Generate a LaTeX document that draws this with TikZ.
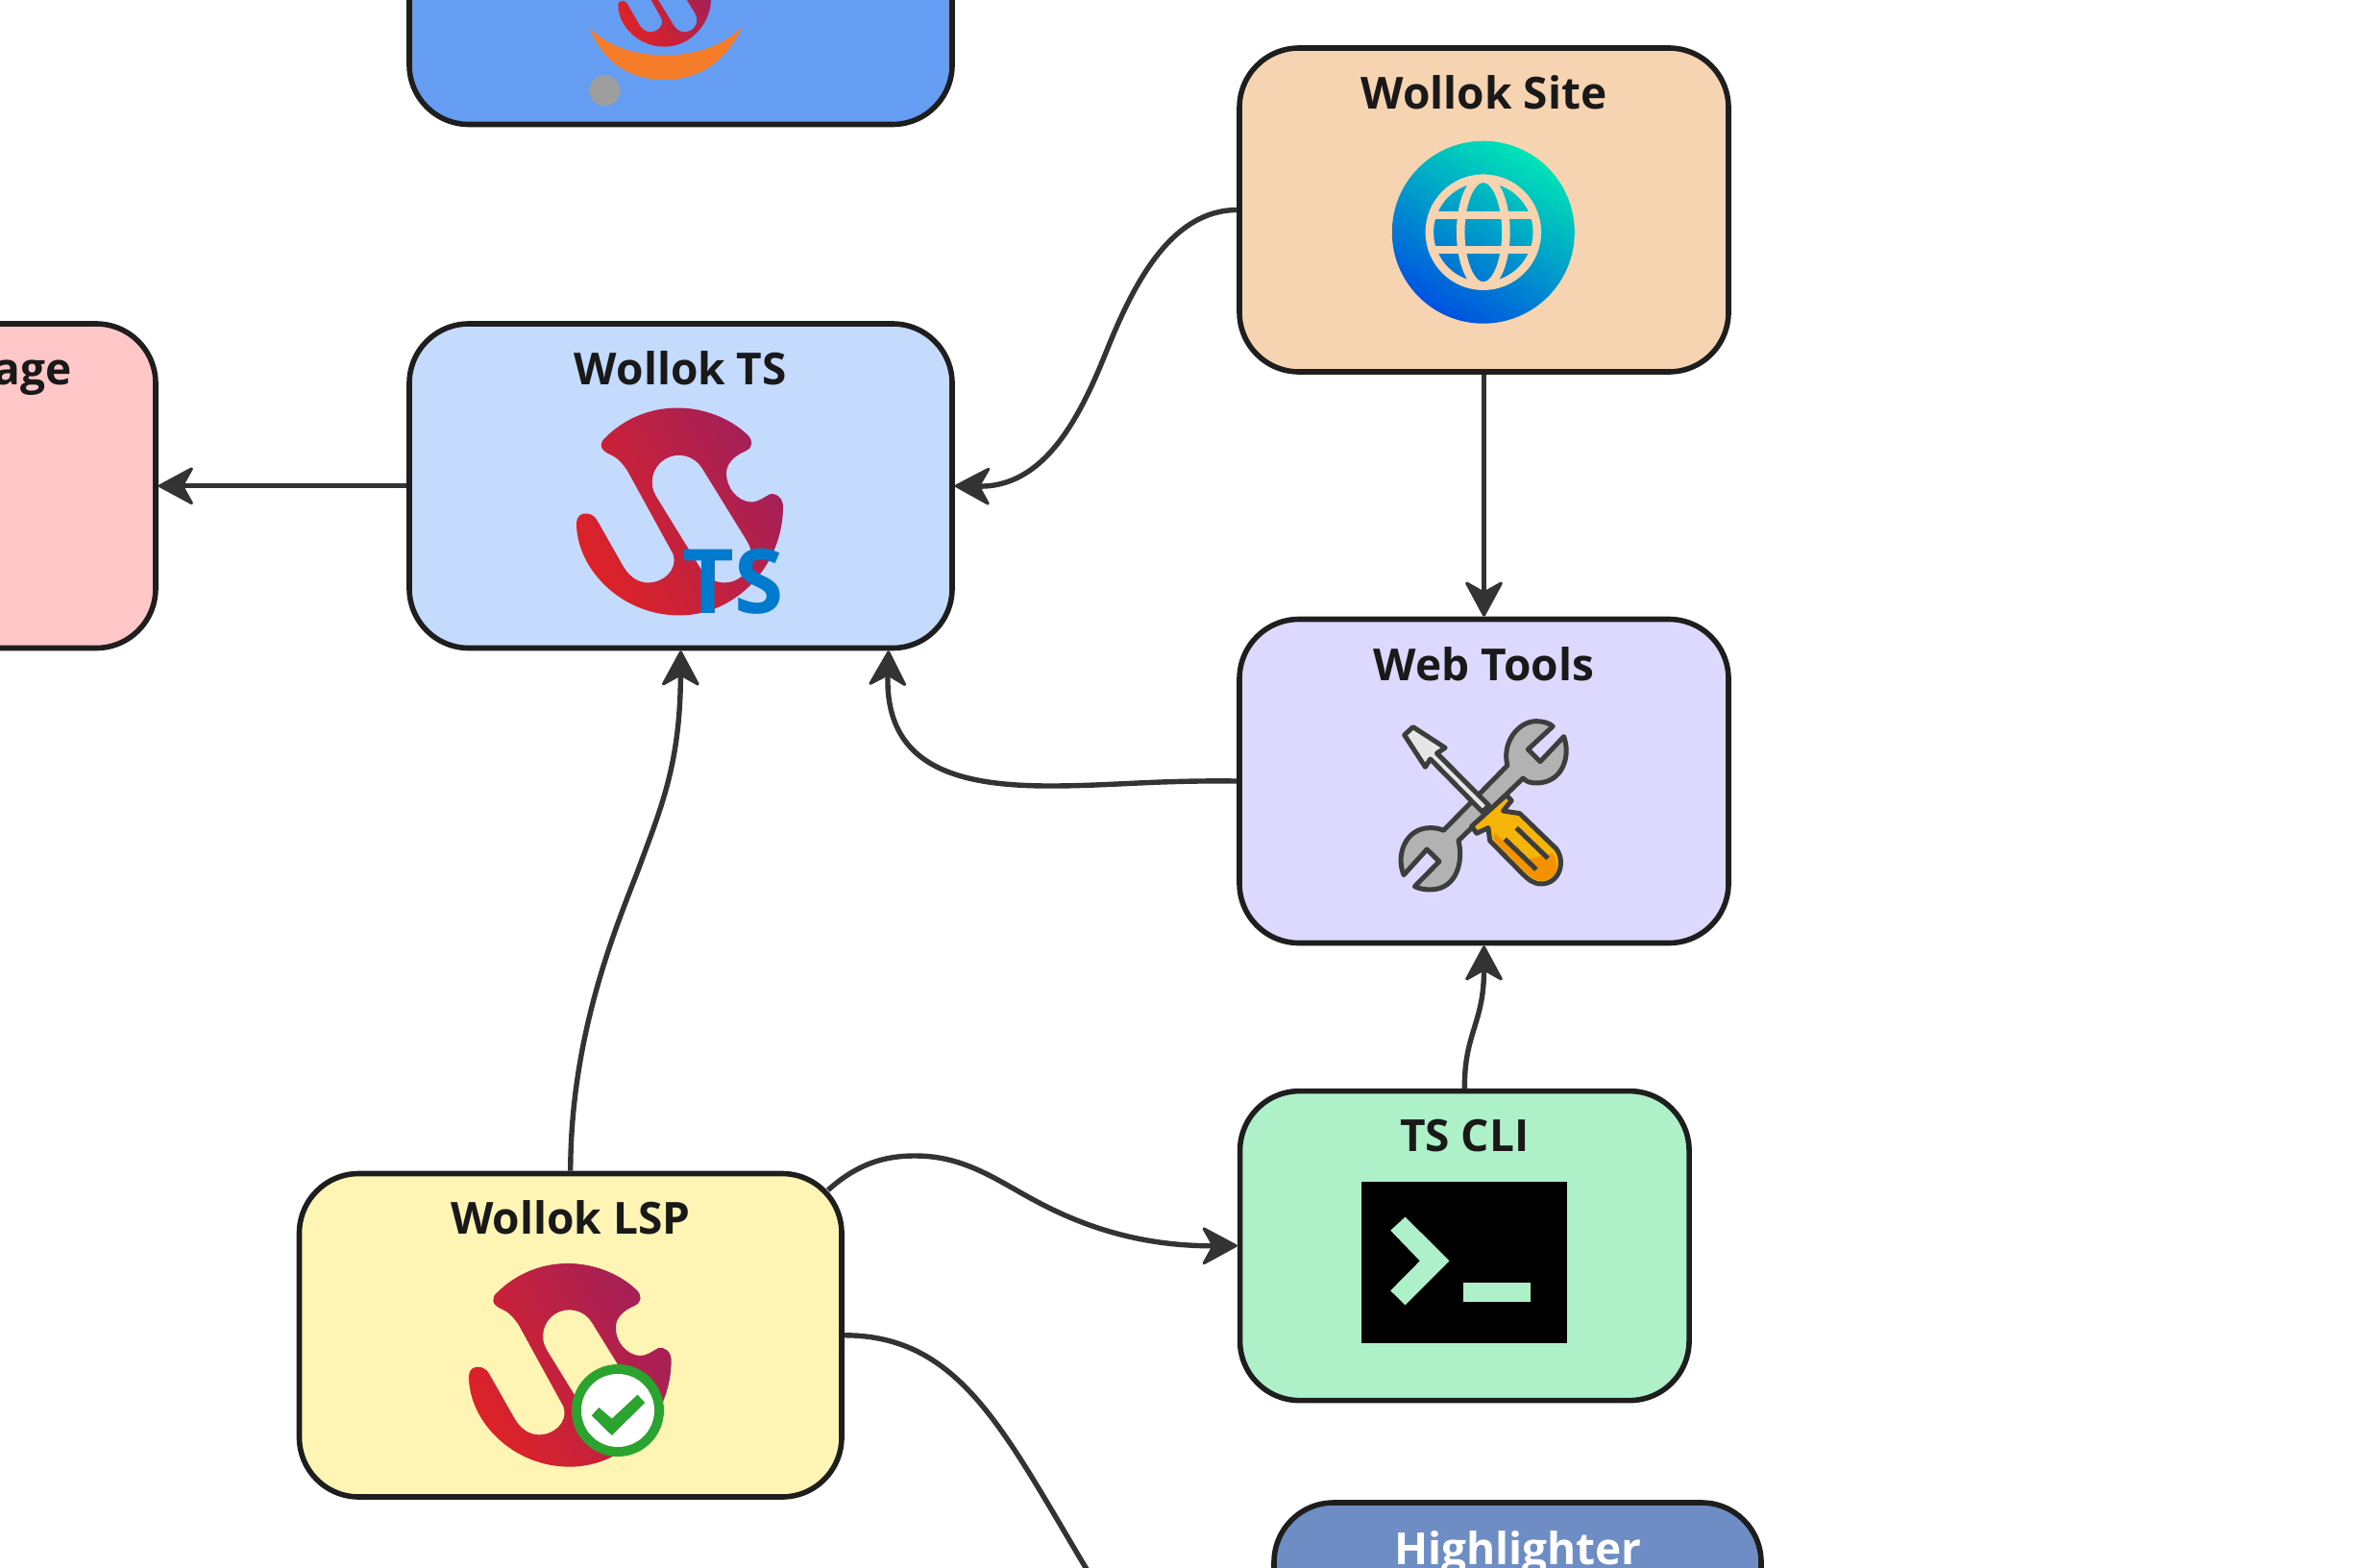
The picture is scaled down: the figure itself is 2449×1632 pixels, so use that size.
\documentclass[tikz,border=0pt]{standalone}
\usepackage{fontspec}
\setmainfont{Open Sans}
\usetikzlibrary{arrows.meta}
\definecolor{cLine}{HTML}{1E1E1E}
\definecolor{cEdge}{HTML}{333333}
\definecolor{cText}{HTML}{191919}
\definecolor{cTop}{HTML}{659DF2}
\definecolor{cTs}{HTML}{C5DBFE}
\definecolor{cPink}{HTML}{FFC7C7}
\definecolor{cSite}{HTML}{F6D4B1}
\definecolor{cWeb}{HTML}{DDD9FE}
\definecolor{cCli}{HTML}{AEF1C9}
\definecolor{cHigh}{HTML}{6F8DC5}
\definecolor{cLsp}{HTML}{FEF4B4}
\definecolor{cLogoA}{HTML}{DC2228}
\definecolor{cLogoB}{HTML}{A32059}
\definecolor{cGrA}{HTML}{00E4B6}
\definecolor{cGrB}{HTML}{0052E0}
\definecolor{cTool}{HTML}{3D3D3D}
\definecolor{cGreen}{HTML}{2AA32F}
\newcommand{\wlogo}[4]{%
  \begin{scope}[shift={(#1,#2)},scale=#3]
    \shade[top color=cLogoB,bottom color=cLogoA,shading angle=-60]
      (107,-5) .. controls (107,55) and (59,108) .. (-1,108)
      .. controls (-61,108) and (-108,60) .. (-108,12)
      .. controls (-108,5) and (-103,1) .. (-96.5,2)
      .. controls (-92,2.5) and (-88,6) .. (-86.6,9)
      -- (-59,57.5)
      .. controls (-52,69) and (-43,74) .. (-33,74)
      .. controls (-19,74) and (-2,62) .. (-7.5,44)
      -- (-55,-42.5)
      .. controls (-60,-50) and (-65,-56) .. (-72,-59)
      .. controls (-85,-64) and (-84,-72) .. (-78,-77)
      .. controls (-58,-97) and (-31,-108) .. (-3,-108)
      .. controls (25,-108) and (52,-97) .. (70,-80)
      .. controls (76,-74) and (76,-67) .. (68,-63)
      .. controls (56,-58) and (48,-50) .. (48,-40)
      .. controls (48,-24) and (60,-11) .. (73,-10)
      .. controls (82,-10) and (87,-15) .. (93,-18)
      .. controls (100,-20) and (107,-14) .. (107,-5) -- cycle;
    \draw[#4,line width=#3*55.8pt,line cap=round] (-1.3,-30.7) -- (46,46);
  \end{scope}}
\tikzset{
  box/.style={rectangle,rounded corners=62pt,draw=cLine,line width=5.6pt,inner sep=0pt},
  lbl/.style={anchor=base,text=cText,inner sep=0pt,font=\fontsize{46}{50}\selectfont\bfseries},
  edge/.style={draw=cEdge,line width=5.4pt,-{Stealth[length=40pt,width=43pt,inset=12pt,round,line width=3pt]}},
  plainedge/.style={draw=cEdge,line width=5.4pt},
  toolline/.style={draw=cTool,line width=5pt,line join=round}
}
\begin{document}
\begin{tikzpicture}[x=1pt,y=-1pt]
\useasboundingbox (0,0) rectangle (2449,1632);
% boxes
\node[box,fill=cTop,minimum width=565pt,minimum height=337.5pt] (topnode) at (708.5,-39.25) {};
\node[box,fill=cTs,minimum width=565pt,minimum height=337.5pt] (ts) at (708.5,505.75) {};
\node[box,fill=cPink,minimum width=565pt,minimum height=337.5pt] (pink) at (-120.5,505.75) {};
\node[box,fill=cSite,minimum width=509pt,minimum height=337pt] (site) at (1544.5,218.5) {};
\node[box,fill=cWeb,minimum width=509pt,minimum height=337pt] (web) at (1544.5,813) {};
\node[box,fill=cCli,minimum width=467.5pt,minimum height=322pt] (cli) at (1524.3,1296.6) {};
\node[box,fill=cLsp,minimum width=564.5pt,minimum height=336.5pt] (lsp) at (593.75,1389.75) {};
\node[box,fill=cHigh,minimum width=507pt,minimum height=337pt] (high) at (1579.5,1732.5) {};
% labels
\node[lbl] (tTs) at (708.5,400.3) {Wollok TS};
\node[lbl,anchor=base east] (tPink) at (75,400.3) {age};
\node[lbl] (tSite) at (1544.5,113.5) {Wollok Site};
\node[lbl] (tWeb) at (1544.5,708.7) {Web Tools};
\node[lbl] (tCli) at (1524.3,1198.5) {TS CLI};
\node[lbl] (tLsp) at (593.75,1284.5) {Wollok LSP};
\node[lbl,text=white] (tHigh) at (1580,1628) {Highlighter};
% connectors
\coordinate (offpage) at (1135,1640);
\draw[edge] (ts.west) -- (pink.east);
\draw[edge] (site.west) .. controls (1218,219) and (1179,297) .. (1151,367)
  .. controls (1123,437) and (1086,507) .. (ts.east);
\draw[edge] (site.south) -- (web.north);
\draw[edge] (web.west) .. controls (1202,812) and (1156,818) .. (1093,818)
  .. controls (1000,818) and (921,800) .. ([xshift=-69pt]ts.south east);
\draw[edge] (lsp.north) .. controls (594,1078) and (640,968) .. (664,906)
  .. controls (687,843) and (708,797) .. (ts.south);
\draw[edge] (cli.north) .. controls (1524,1075) and (1544.5,1065) .. (web.south);
\draw[edge] ([xshift=-17pt,yshift=-20pt]lsp.north east) .. controls (898,1206) and (930,1203) .. (953,1203)
  .. controls (1005,1203) and (1040,1230) .. (1078,1250)
  .. controls (1130,1278) and (1190,1297) .. (cli.west);
\draw[plainedge] (lsp.east) .. controls (1000,1390) and (1045,1490) .. (offpage);
% top logo
\wlogo{692}{0}{0.45}{cTop}
\fill[color={rgb,255:red,244;green,123;blue,39}]
  (613.5,29) .. controls (632,48) and (660,57.5) .. (692,57.5)
  .. controls (725,57.5) and (753,47) .. (772.5,28)
  .. controls (755,65) and (727,83) .. (692,83)
  .. controls (655,83) and (628,65) .. (613.5,29) -- cycle;
\fill[color={rgb,255:red,158;green,158;blue,158}] (629.3,94.3) circle[radius=16];
% wollok ts logo
\wlogo{708}{532.5}{1}{cTs}
\node[anchor=base,inner sep=0pt,text={rgb,255:red,0;green,122;blue,204},font=\fontsize{93}{100}\selectfont\bfseries] (tTsIcon) at (763.5,638.3) {TS};
% lsp logo
\wlogo{593.8}{1420.8}{0.98}{cLsp}
\fill[cGreen] (643,1468) circle[radius=48];
\fill[white] (643,1468) circle[radius=38];
\begin{scope}[shift={(300,1200)},x=0.3827pt,y=-0.3333pt]
  \fill[cGreen] (825,820) -- (845,795) -- (880,830) -- (950,755) -- (970,780) -- (880,882) -- cycle;
\end{scope}
% globe
\shade[top color=cGrA,bottom color=cGrB,shading angle=-30] (1543.8,241.7) circle[radius=95];
\begin{scope}
  \clip (1543.8,241.7) circle[radius=56];
  \draw[cSite,line width=8pt] (1480,223.7) -- (1610,223.7);
  \draw[cSite,line width=8pt] (1480,259.7) -- (1610,259.7);
\end{scope}
\draw[cSite,line width=8.5pt] (1543.8,241.7) circle[radius=56];
\draw[cSite,line width=8.5pt] (1543.8,241.7) ellipse[x radius=23.6,y radius=56];
% tools
\begin{scope}[shift={(1280,630)},x=0.3448pt,y=-0.3333pt]
  \draw[toolline,fill={rgb,255:red,178;green,178;blue,178}]
    (975,378) -- (900,450) -- (937,488) -- (1008,410)
    .. controls (1030,470) and (1005,555) .. (925,555)
    .. controls (905,555) and (895,550) .. (885,540)
    -- (690,735)
    .. controls (705,790) and (690,888) .. (605,888)
    .. controls (590,888) and (570,885) .. (558,878)
    -- (632,800) -- (595,762) -- (525,842)
    .. controls (500,780) and (530,695) .. (605,695)
    .. controls (620,695) and (632,697) .. (645,703)
    -- (838,500)
    .. controls (820,430) and (870,362) .. (925,362)
    .. controls (945,362) and (965,368) .. (975,378) -- cycle;
  \draw[toolline,fill={rgb,255:red,230;green,230;blue,230}]
    (553,380) -- (650,445) -- (625,462) -- (782,625) -- (762,645) -- (605,480) -- (590,505) -- (527,405) -- cycle;
  \draw[toolline,fill={rgb,255:red,245;green,180;blue,8}]
    (745,712) -- (730,690) -- (835,592) -- (850,610) -- (825,642) -- (875,650) -- (985,760)
    .. controls (1015,800) and (995,870) .. (940,870)
    .. controls (915,870) and (900,855) .. (885,840)
    -- (785,735) -- (780,695) -- cycle;
  \fill[color={rgb,255:red,243;green,146;blue,0}]
    (800,712) -- (885,795) -- (975,775)
    .. controls (1000,810) and (985,860) .. (940,860)
    .. controls (920,860) and (905,845) .. (892,832)
    -- (795,730) -- cycle;
  \draw[toolline] (865,695) -- (960,790);
  \draw[toolline] (830,730) -- (925,825);
\end{scope}
% terminal
\begin{scope}[shift={(1280,1120)},x=0.3827pt,y=-0.3333pt]
  \fill[black] (357,330) rectangle (916,835);
  \fill[cCli] (477,440) -- (597,577) -- (477,715) -- (437,670) -- (517,577) -- (437,482) -- cycle;
  \fill[cCli] (636,645) rectangle (818,706);
\end{scope}
\end{tikzpicture}
\end{document}
